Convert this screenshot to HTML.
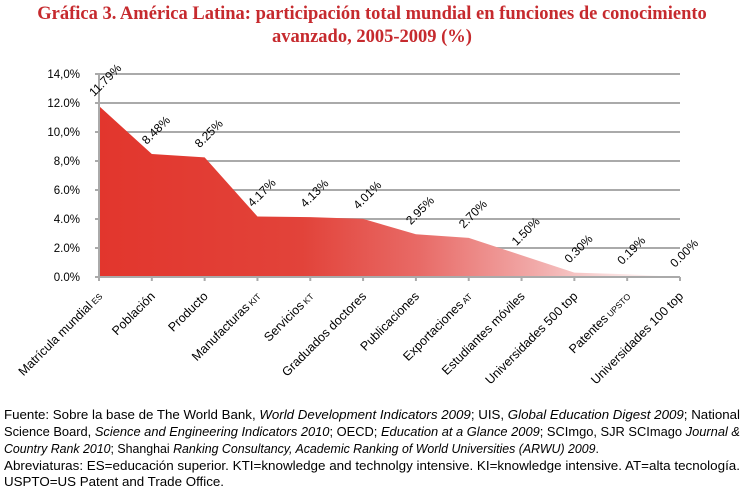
<!DOCTYPE html>
<html><head><meta charset="utf-8"><style>
body{margin:0;background:#fff;}
svg{display:block;}
</style></head><body>
<svg id="chart" width="744" height="492" xmlns="http://www.w3.org/2000/svg">
<defs>
<linearGradient id="grad" gradientUnits="userSpaceOnUse" x1="99" y1="0" x2="680" y2="0">
<stop offset="0" stop-color="#e2362d"/>
<stop offset="0.35" stop-color="#e2433a"/>
<stop offset="0.55" stop-color="#e86a66"/>
<stop offset="0.75" stop-color="#f1a9a8"/>
<stop offset="0.9" stop-color="#fbe4e4"/>
<stop offset="1" stop-color="#ffffff"/>
</linearGradient>
</defs>
<text x="372" y="19" text-anchor="middle" font-family="Liberation Serif, serif" font-weight="bold" font-size="18.5" fill="#c62a2e">Gráfica 3. América Latina: participación total mundial en funciones de conocimiento</text>
<text x="372" y="42" text-anchor="middle" font-family="Liberation Serif, serif" font-weight="bold" font-size="18.5" fill="#c62a2e">avanzado, 2005-2009 (%)</text>
<g id="grid"></g>
<path id="area" fill="url(#grad)"></path>
<g id="axes"></g>
<g id="labels"></g>
<g font-family="Liberation Sans Narrow, Liberation Sans, sans-serif" font-size="13" fill="#000">
<text x="4" y="419" textLength="736" lengthAdjust="spacingAndGlyphs">Fuente: Sobre la base de The World Bank, <tspan font-style="italic">World Development Indicators 2009</tspan>; UIS, <tspan font-style="italic">Global Education Digest 2009</tspan>; National</text>
<text x="4" y="436" textLength="736" lengthAdjust="spacingAndGlyphs">Science Board, <tspan font-style="italic">Science and Engineering Indicators 2010</tspan>; OECD; <tspan font-style="italic">Education at a Glance 2009</tspan>; SCImgo, SJR SCImago <tspan font-style="italic">Journal &amp;</tspan></text>
<text x="4" y="453" textLength="595" lengthAdjust="spacingAndGlyphs"><tspan font-style="italic">Country Rank 2010</tspan>; Shanghai <tspan font-style="italic">Ranking Consultancy, Academic Ranking of World Universities (ARWU) 2009</tspan>.</text>
<text x="4" y="470" textLength="736" lengthAdjust="spacingAndGlyphs">Abreviaturas: ES=educación superior. KTI=knowledge and technolgy intensive. KI=knowledge intensive. AT=alta tecnología.</text>
<text x="4" y="486" textLength="220" lengthAdjust="spacingAndGlyphs">USPTO=US Patent and Trade Office.</text>
</g>
</svg>
<script>
const categories=["Matrícula mundial ES","Población","Producto","Manufacturas KIT","Servicios KT","Graduados doctores","Publicaciones","Exportaciones AT","Estudiantes móviles","Universidades 500 top","Patentes UPSTO","Universidades 100 top"];
const values=[11.79,8.48,8.25,4.17,4.13,4.01,2.95,2.70,1.50,0.30,0.19,0.00];
const valueLabels=["11.79%","8.48%","8.25%","4.17%","4.13%","4.01%","2.95%","2.70%","1.50%","0.30%","0.19%","0.00%"];
const yTicks=[0,2,4,6,8,10,12,14];
const yTickLabels=["0.0%","2.0%","4.0%","6.0%","8,0%","10,0%","12.0%","14,0%"];
const NS="http://www.w3.org/2000/svg";
const x0=99,x1=680,yb=277,yt=74,ymax=14;
function xs(i){return x0+i*(x1-x0)/(categories.length-1);}
function ys(v){return yb-(v/ymax)*(yb-yt);}
function mk(tag,attrs,parent){const e=document.createElementNS(NS,tag);for(const k in attrs)e.setAttribute(k,attrs[k]);parent.appendChild(e);return e;}
const grid=document.getElementById('grid'),axes=document.getElementById('axes'),labels=document.getElementById('labels');
yTicks.forEach((t,i)=>{
  if(t>0){const l=mk('line',{x1:x0,x2:x1,y1:ys(t),y2:ys(t),stroke:'#aaaaaa','stroke-width':2},grid);
  
  }
  const tk=mk('line',{x1:x0-4,x2:x0,y1:ys(t),y2:ys(t),stroke:'#aaaaaa','stroke-width':2},axes);
  
  
  const tx=mk('text',{x:80,y:ys(t)+4,'text-anchor':'end','font-family':'Liberation Sans, sans-serif','font-size':11.5,fill:'#000'},axes);
  tx.textContent=yTickLabels[i];
  
  
});
let d='M'+xs(0)+','+yb;
values.forEach((v,i)=>{d+=' L'+xs(i)+','+ys(v);});
d+=' L'+xs(values.length-1)+','+yb+' Z';
document.getElementById('area').setAttribute('d',d);
const ya=mk('line',{x1:x0,x2:x0,y1:yt-1,y2:yb+1,stroke:'#aaaaaa','stroke-width':2},axes);


const xa=mk('line',{x1:x0,x2:x1,y1:yb,y2:yb,stroke:'#aaaaaa','stroke-width':2},axes);


categories.forEach((c,i)=>{
  const x=xs(i);
  const tk=mk('line',{x1:x,x2:x,y1:yb,y2:yb+4,stroke:'#aaaaaa','stroke-width':2},axes);
  
  
  const parts=c.match(/^(.*?)( (ES|KIT|KT|AT|UPSTO))?$/);
  const lx=x+4,ly=yb+20;
  const t=mk('text',{x:lx,y:ly,'text-anchor':'end','font-family':'Liberation Sans, sans-serif','font-size':12.5,fill:'#000',transform:'rotate(-45 '+lx+' '+ly+')'},labels);
  t.textContent=parts[1];
  if(parts[3]){const s=mk('tspan',{'font-size':8.5},t);s.textContent=' '+parts[3];}
  
  
  const px=x-5,py=ys(values[i])-9;
  const vl=mk('text',{x:px,y:py,'font-family':'Liberation Sans, sans-serif','font-size':12,fill:'#000',transform:'rotate(-45 '+px+' '+py+')'},labels);
  vl.textContent=valueLabels[i];
  
  
});
</script>
</body></html>
